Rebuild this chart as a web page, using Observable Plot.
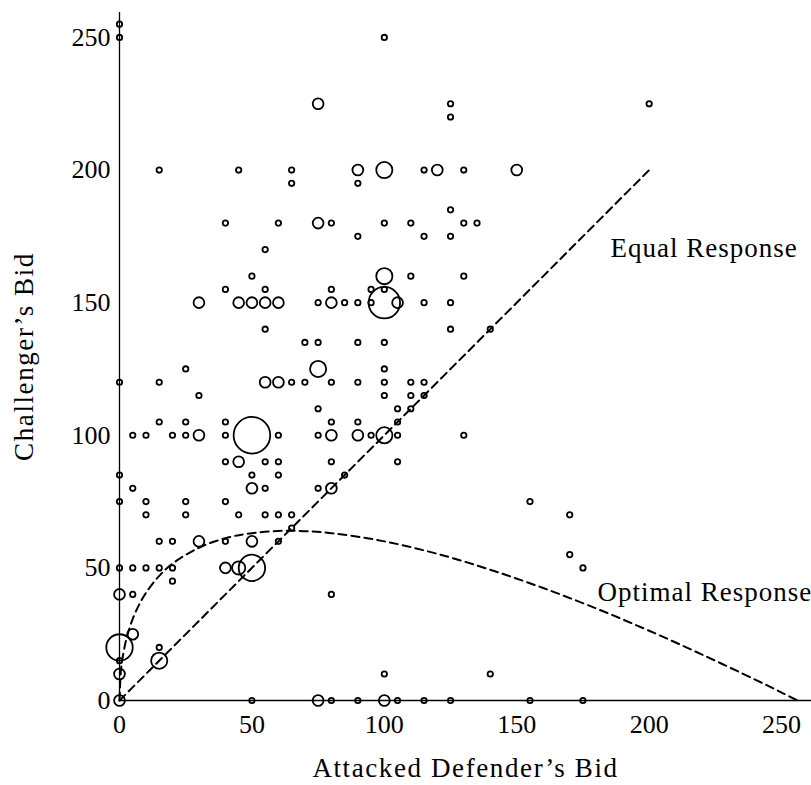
<!DOCTYPE html>
<html><head><meta charset="utf-8">
<script src="https://cdn.jsdelivr.net/npm/d3@7"></script>
<script src="https://cdn.jsdelivr.net/npm/@observablehq/plot@0.6"></script>
<style>body{margin:0;background:#fff}</style>
</head><body><div id="chart"></div>
<script>
// Observed bids (attacked defender's bid, challenger's bid) and number of observations at each pair
const defenderBid = [
  0,
  0, 100,
  75, 125, 200,
  125,
  15, 45, 65, 90, 100, 115, 120, 130, 150,
  65, 90,
  125,
  40, 60, 75, 80, 100, 110, 130, 135,
  90, 115, 125,
  55,
  50, 100, 110, 130,
  40, 55, 80, 95, 100,
  30, 45, 50, 55, 60, 75, 80, 85, 90, 95, 100, 105, 115, 125,
  55, 125, 140,
  70, 75, 90, 100,
  25, 75, 100,
  0, 15, 55, 60, 65, 70, 80, 90, 100, 110, 115,
  30, 100, 110, 115,
  75, 105, 110,
  15, 25, 40, 80, 90, 105,
  5, 10, 20, 25, 30, 40, 50, 60, 75, 80, 90, 95, 100, 105, 130,
  40, 45, 55, 60, 80, 105,
  0, 50, 60, 85,
  5, 50, 55, 75, 80,
  0, 10, 25, 40, 155,
  10, 25, 45, 55, 60, 65, 170,
  65,
  15, 20, 30, 40, 50, 60,
  170,
  0, 5, 10, 15, 20, 40, 45, 50, 175,
  20,
  0, 5, 80,
  5,
  0, 15,
  0, 15,
  0, 100, 140,
  0, 50, 75, 80, 90, 100, 105, 115, 125, 155, 175
];
const challengerBid = [
  255,
  250, 250,
  225, 225, 225,
  220,
  200, 200, 200, 200, 200, 200, 200, 200, 200,
  195, 195,
  185,
  180, 180, 180, 180, 180, 180, 180, 180,
  175, 175, 175,
  170,
  160, 160, 160, 160,
  155, 155, 155, 155, 155,
  150, 150, 150, 150, 150, 150, 150, 150, 150, 150, 150, 150, 150, 150,
  140, 140, 140,
  135, 135, 135, 135,
  125, 125, 125,
  120, 120, 120, 120, 120, 120, 120, 120, 120, 120, 120,
  115, 115, 115, 115,
  110, 110, 110,
  105, 105, 105, 105, 105, 105,
  100, 100, 100, 100, 100, 100, 100, 100, 100, 100, 100, 100, 100, 100, 100,
  90, 90, 90, 90, 90, 90,
  85, 85, 85, 85,
  80, 80, 80, 80, 80,
  75, 75, 75, 75, 75,
  70, 70, 70, 70, 70, 70, 70,
  65,
  60, 60, 60, 60, 60, 60,
  55,
  50, 50, 50, 50, 50, 50, 50, 50, 50,
  45,
  40, 40, 40,
  25,
  20, 20,
  15, 15,
  10, 10, 10,
  0, 0, 0, 0, 0, 0, 0, 0, 0, 0, 0
];
const bidCount = [
  1,
  1, 1,
  4, 1, 1,
  1,
  1, 1, 1, 4, 9, 1, 4, 1, 4,
  1, 1,
  1,
  1, 1, 4, 1, 1, 1, 1, 1,
  1, 1, 1,
  1,
  1, 9, 1, 1,
  1, 1, 1, 1, 1,
  4, 4, 4, 4, 4, 1, 4, 1, 1, 1, 34, 4, 1, 1,
  1, 1, 1,
  1, 1, 1, 1,
  1, 9, 1,
  1, 1, 4, 4, 1, 1, 1, 1, 1, 1, 1,
  1, 1, 1, 1,
  1, 1, 1,
  1, 1, 1, 1, 1, 1,
  1, 1, 1, 1, 4, 1, 46, 1, 1, 4, 4, 1, 9, 1, 1,
  1, 4, 1, 1, 1, 1,
  1, 1, 1, 1,
  1, 4, 1, 1, 4,
  1, 1, 1, 1, 1,
  1, 1, 1, 1, 1, 1, 1,
  1,
  1, 1, 4, 1, 4, 1,
  1,
  1, 1, 1, 1, 1, 4, 6, 24, 1,
  1,
  4, 1, 1,
  4,
  24, 1,
  1, 9,
  4, 1, 1,
  4, 1, 4, 1, 1, 4, 1, 1, 1, 1, 1
];

// Reference curves
const equalX = [0, 200];
const equalY = [0, 200];
const optimalX = [0, 0.5, 1, 2, 3, 5, 7.5, 10, 15, 20, 30, 40, 50, 64, 80, 100, 120, 140, 160, 180, 200, 220, 240, 250, 256];
const optimalY = [0, 10.8, 15, 20.6, 24.7, 30.8, 36.3, 40.6, 47, 51.6, 57.6, 61.2, 63.1, 64, 63.1, 60, 55.3, 49.3, 42.4, 34.7, 26.3, 17.3, 7.9, 3, 0];

// Annotations
const labelText = ["Equal Response", "Optimal Response"];
const labelX = [185.4, 180.5];
const labelY = [170.4, 40.7];

// Axis ticks
const xTicks = [0, 50, 100, 150, 200, 250];
const yTicks = [0, 50, 100, 150, 200, 250];

const points = defenderBid.map((x, i) => ({x, y: challengerBid[i], n: bidCount[i]}));
const equal = equalX.map((x, i) => ({x, y: equalY[i]}));
const optimal = optimalX.map((x, i) => ({x, y: optimalY[i]}));
const labels = labelText.map((t, i) => ({t, x: labelX[i], y: labelY[i]}));

const chart = Plot.plot({
  width: 811,
  height: 785,
  marginLeft: 119,
  marginRight: 0,
  marginTop: 12,
  marginBottom: 85,
  x: {domain: [0, 261.3]},
  y: {domain: [0, 259.4]},
  r: {type: "sqrt", domain: [0, 46], range: [0, 18.3]},
  style: {fontFamily: "'Liberation Serif', serif", fontSize: "26px", background: "white", color: "black"},
  marks: [
    Plot.axisX(xTicks, {tickSize: 0, tickPadding: 14, label: "Attacked Defender\u2019s Bid", labelAnchor: "center", labelOffset: 76, labelArrow: "none"}),
    Plot.axisY(yTicks, {tickSize: 0, tickPadding: 9, label: "Challenger\u2019s Bid", labelAnchor: "center", labelOffset: 106, labelArrow: "none"}),
    Plot.ruleY([0], {stroke: "black", strokeWidth: 1.3}),
    Plot.ruleX([0], {stroke: "black", strokeWidth: 1.3}),
    Plot.line(equal, {x: "x", y: "y", stroke: "black", strokeWidth: 2, strokeDasharray: "8,5"}),
    Plot.line(optimal, {x: "x", y: "y", stroke: "black", strokeWidth: 2, strokeDasharray: "8,5", curve: "catmull-rom"}),
    Plot.dot(points, {x: "x", y: "y", r: "n", stroke: "black", strokeWidth: 1.8, fill: "none"}),
    Plot.text(labels, {x: "x", y: "y", text: "t", textAnchor: "start", fontSize: 27})
  ]
});
// typographic adjustments to mimic the wider serif of the original
d3.select(chart).selectAll("[aria-label='x-axis label'] text, [aria-label='y-axis label'] text")
  .style("font-size", "27px").style("letter-spacing", "1.6px");
d3.select(chart).selectAll("[aria-label='text'] text").style("letter-spacing", "1px");
document.getElementById("chart").appendChild(chart);
</script>
</body></html>
